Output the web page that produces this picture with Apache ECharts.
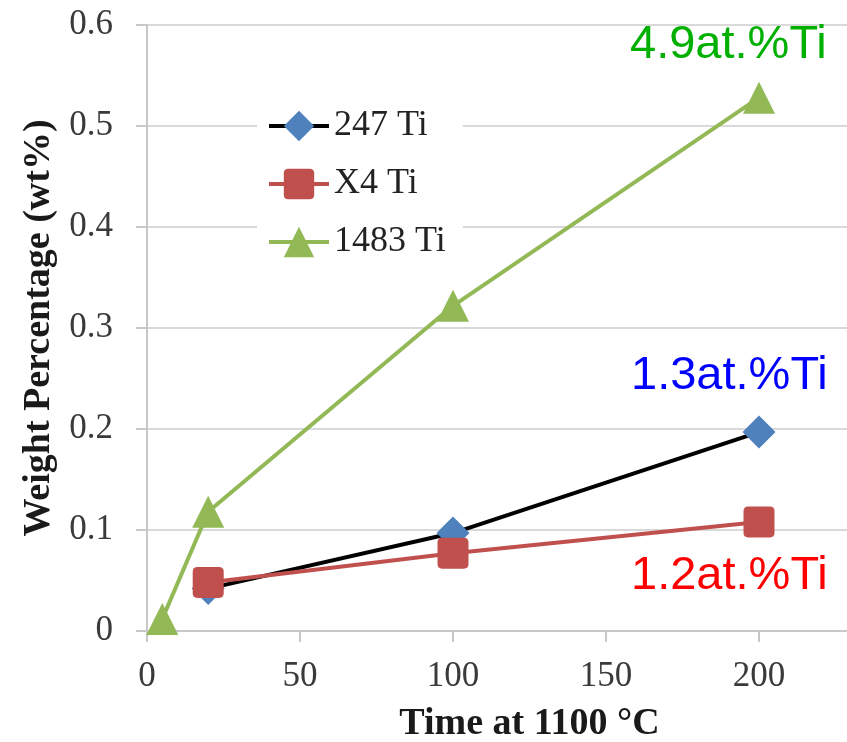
<!DOCTYPE html>
<html>
<head>
<meta charset="utf-8">
<script src="https://cdn.jsdelivr.net/npm/echarts@6/dist/echarts.min.js"></script>
<style>
  html, body { margin: 0; padding: 0; background: #fff; overflow: hidden; }
  /* the plot runs on to x = 250, past the right edge of the window */
  #chart { width: 912px; height: 742px; }
</style>
</head>
<body>
<div id="chart"></div>
<script>
// Ti content (wt%) versus exposure time at 1100 °C
const seriesNames = ['247 Ti', 'X4 Ti', '1483 Ti'];
const ti247 = [[20, 0.042], [100, 0.097], [200, 0.197]];
const tiX4 = [[20, 0.048], [100, 0.077], [200, 0.108]];
const ti1483 = [[5, 0.012], [20, 0.118], [100, 0.322], [200, 0.528]];
const xTicks = [0, 50, 100, 150, 200, 250];
const yTicks = [0, 0.1, 0.2, 0.3, 0.4, 0.5, 0.6];
const notes = ['4.9at.%Ti', '1.3at.%Ti', '1.2at.%Ti'];

const serif = '"Liberation Serif", "DejaVu Serif", serif';
const sans = '"Liberation Sans", Arial, sans-serif';
const roundedSquare = 'path://M3,0 H17 Q20,0 20,3 V17 Q20,20 17,20 H3 Q0,20 0,17 V3 Q0,0 3,0 Z';

const chart = echarts.init(document.getElementById('chart'));
chart.setOption({
  backgroundColor: '#ffffff',
  animation: false,
  grid: { left: 147, right: 0, top: 25, bottom: 111, containLabel: false, outerBoundsMode: 'none' },
  xAxis: {
    type: 'value',
    min: xTicks[0], max: xTicks[xTicks.length - 1], interval: 50,
    name: 'Time at 1100 °C',
    nameLocation: 'middle', nameGap: 74,
    nameTextStyle: { fontFamily: serif, fontWeight: 'bold', fontSize: 38, color: '#1a1a1a' },
    axisLine: { lineStyle: { color: '#c8c8c8', width: 2 } },
    axisTick: { show: true, length: 11, lineStyle: { color: '#c8c8c8', width: 2 } },
    axisLabel: { fontFamily: serif, fontSize: 35, color: '#3a3a3a', margin: 28 },
    splitLine: { show: false }
  },
  yAxis: {
    type: 'value',
    min: yTicks[0], max: yTicks[yTicks.length - 1], interval: 0.1,
    name: 'Weight Percentage (wt%)',
    nameLocation: 'middle', nameGap: 81,
    nameTextStyle: { fontFamily: serif, fontWeight: 'bold', fontSize: 38, color: '#1a1a1a' },
    axisLine: { show: true, lineStyle: { color: '#c8c8c8', width: 2 } },
    axisTick: { show: true, length: 11, lineStyle: { color: '#c8c8c8', width: 2 } },
    axisLabel: { fontFamily: serif, fontSize: 35, color: '#3a3a3a', margin: 34 },
    splitLine: { lineStyle: { color: '#d9d9d9', width: 2 } }
  },
  legend: {
    orient: 'vertical',
    left: 257, top: 102,
    padding: [6, 17, 6, 10],
    backgroundColor: '#ffffff',
    itemWidth: 60, itemHeight: 38, itemGap: 22,
    textStyle: { fontFamily: serif, fontSize: 36, color: '#222' },
    lineStyle: { width: 4 },
    data: seriesNames
  },
  series: [
    {
      name: seriesNames[0], type: 'line', data: ti247, z: 3,
      symbol: 'diamond', symbolSize: 33,
      lineStyle: { color: '#000000', width: 4 },
      itemStyle: { color: '#4f81bd' }
    },
    {
      name: seriesNames[1], type: 'line', data: tiX4, z: 4,
      symbol: roundedSquare, symbolSize: 31,
      lineStyle: { color: '#c0504d', width: 4 },
      itemStyle: { color: '#c0504d' }
    },
    {
      name: seriesNames[2], type: 'line', data: ti1483, z: 5,
      symbol: 'triangle', symbolSize: 32,
      lineStyle: { color: '#92b956', width: 4 },
      itemStyle: { color: '#92b956' }
    }
  ],
  graphic: [
    { type: 'text', left: 630, top: 22, z: 10,
      style: { text: notes[0], fontFamily: sans, fontSize: 47, fill: '#00b000' } },
    { type: 'text', left: 631, top: 353, z: 10,
      style: { text: notes[1], fontFamily: sans, fontSize: 47, fill: '#0000ff' } },
    { type: 'text', left: 631, top: 553, z: 10,
      style: { text: notes[2], fontFamily: sans, fontSize: 47, fill: '#ff0000' } }
  ]
});
</script>
</body>
</html>
